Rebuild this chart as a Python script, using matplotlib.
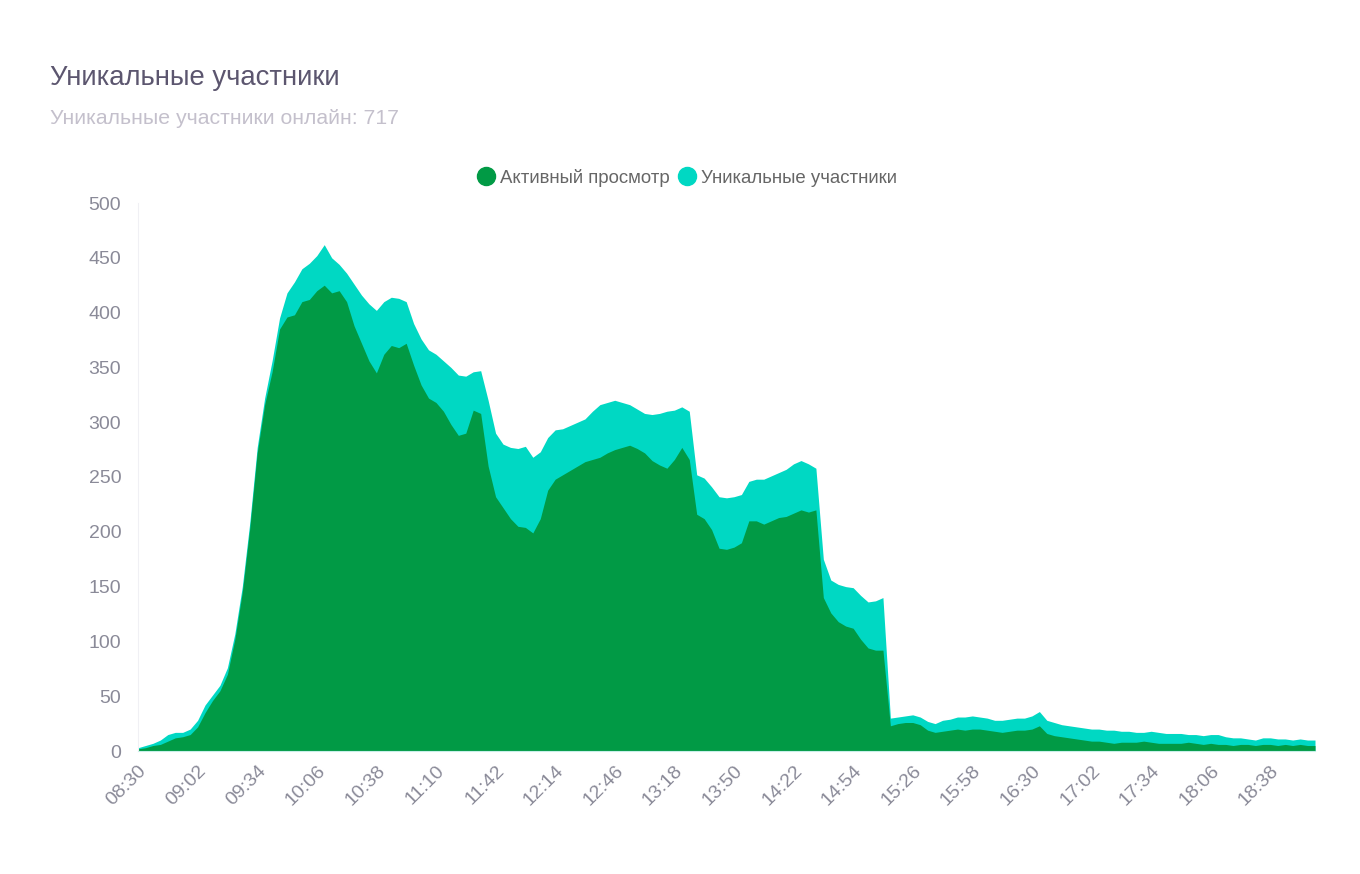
import matplotlib
matplotlib.use("Agg")
import matplotlib.pyplot as plt
from matplotlib.lines import Line2D
import numpy as np

plt.rcParams['font.family'] = ['Liberation Sans', 'DejaVu Sans']

# minutes since 08:30, one reading every 4 minutes
step = 4

unique_users = [
    3, 5, 7, 10, 15, 17, 17, 20, 28, 42,
    51, 60, 76, 107, 150, 208, 277, 322, 356, 395,
    418, 428, 440, 445, 452, 462, 450, 444, 436, 426,
    416, 408, 402, 410, 414, 413, 410, 390, 376, 366,
    362, 356, 350, 343, 342, 346, 347, 320, 290, 280,
    277, 276, 278, 268, 273, 286, 293, 294, 297, 300,
    303, 310, 316, 318, 320, 318, 316, 312, 308, 307,
    308, 310, 311, 314, 310, 252, 249, 241, 232, 231,
    232, 234, 246, 248, 248, 251, 254, 257, 262, 265,
    262, 258, 175, 156, 152, 150, 149, 142, 136, 137,
    140, 30, 31, 32, 33, 31, 27, 25, 28, 29,
    31, 31, 32, 31, 30, 28, 28, 29, 30, 30,
    32, 36, 28, 26, 24, 23, 22, 21, 20, 20,
    19, 19, 18, 18, 17, 17, 18, 17, 16, 16,
    16, 15, 15, 14, 15, 15, 13, 12, 12, 11,
    10, 12, 12, 11, 11, 10, 11, 10, 10,
]

active_view = [
    2, 3, 5, 6, 9, 12, 13, 15, 22, 35,
    46, 55, 70, 102, 145, 203, 272, 316, 346, 385,
    396, 398, 410, 412, 420, 425, 418, 420, 410, 388,
    372, 356, 345, 362, 370, 368, 372, 352, 334, 322,
    318, 310, 298, 288, 290, 311, 308, 260, 232, 222,
    212, 205, 204, 199, 212, 238, 248, 252, 256, 260,
    264, 266, 268, 272, 275, 277, 279, 276, 272, 265,
    261, 258, 266, 277, 266, 216, 212, 202, 185, 184,
    186, 190, 210, 210, 207, 210, 213, 214, 217, 220,
    218, 220, 140, 126, 118, 114, 112, 102, 94, 92,
    92, 23, 25, 26, 26, 24, 19, 17, 18, 19,
    20, 19, 20, 20, 19, 18, 17, 18, 19, 19,
    20, 23, 16, 14, 13, 12, 11, 10, 9, 9,
    8, 7, 8, 8, 8, 9, 8, 7, 7, 7,
    7, 8, 7, 6, 7, 6, 6, 5, 6, 6,
    5, 6, 6, 5, 6, 5, 6, 5, 5,
]

tick_labels = ['08:30', '09:02', '09:34', '10:06', '10:38', '11:10', '11:42',
               '12:14', '12:46', '13:18', '13:50', '14:22', '14:54', '15:26',
               '15:58', '16:30', '17:02', '17:34', '18:06', '18:38']

minutes = np.arange(len(unique_users)) * step

fig = plt.figure(figsize=(13.6, 8.74), dpi=100)
ax = fig.add_axes([138/1360, 1 - 751/874, (1315-138)/1360, (751-203)/874])

ax.fill_between(minutes, 0, unique_users, color='#00d8c3', linewidth=0)
ax.fill_between(minutes, 0, active_view, color='#019a45', linewidth=0)

ax.set_xlim(0, minutes[-1])
ax.set_ylim(0, 500)
ax.set_yticks(range(0, 501, 50))
ax.set_xticks(np.arange(len(tick_labels)) * 32)
ax.set_xticklabels(tick_labels, rotation=45, ha='right', rotation_mode='anchor')

ax.tick_params(axis='both', length=0, labelsize=14, colors='#8a8a98')
ax.tick_params(axis='x', pad=8)
ax.tick_params(axis='y', pad=12)

for s in ['top', 'right']:
    ax.spines[s].set_visible(False)
ax.spines['left'].set_color('#f0f0f4')
ax.spines['bottom'].set_color('#c8efe9')

fig.text(50/1360, 1 - 78/874, 'Уникальные участники', fontsize=19.8,
         color='#5c566f', va='center', ha='left')
fig.text(50/1360, 1 - 119/874, 'Уникальные участники онлайн: 717', fontsize=15.3,
         color='#c4c0cc', va='center', ha='left')

# legend
h = [Line2D([], [], marker='o', linestyle='', markersize=13, color='#019a45'),
     Line2D([], [], marker='o', linestyle='', markersize=13, color='#00d8c3')]
fig.legend(h, ['Активный просмотр', 'Уникальные участники'], loc='center',
           bbox_to_anchor=(687/1360, 1 - 178/874), ncol=2, frameon=False,
           fontsize=13.4, labelcolor='#666666', handletextpad=0.25,
           columnspacing=0.4, handlelength=1.0)

fig.savefig('out.png', dpi=100, facecolor='white')
